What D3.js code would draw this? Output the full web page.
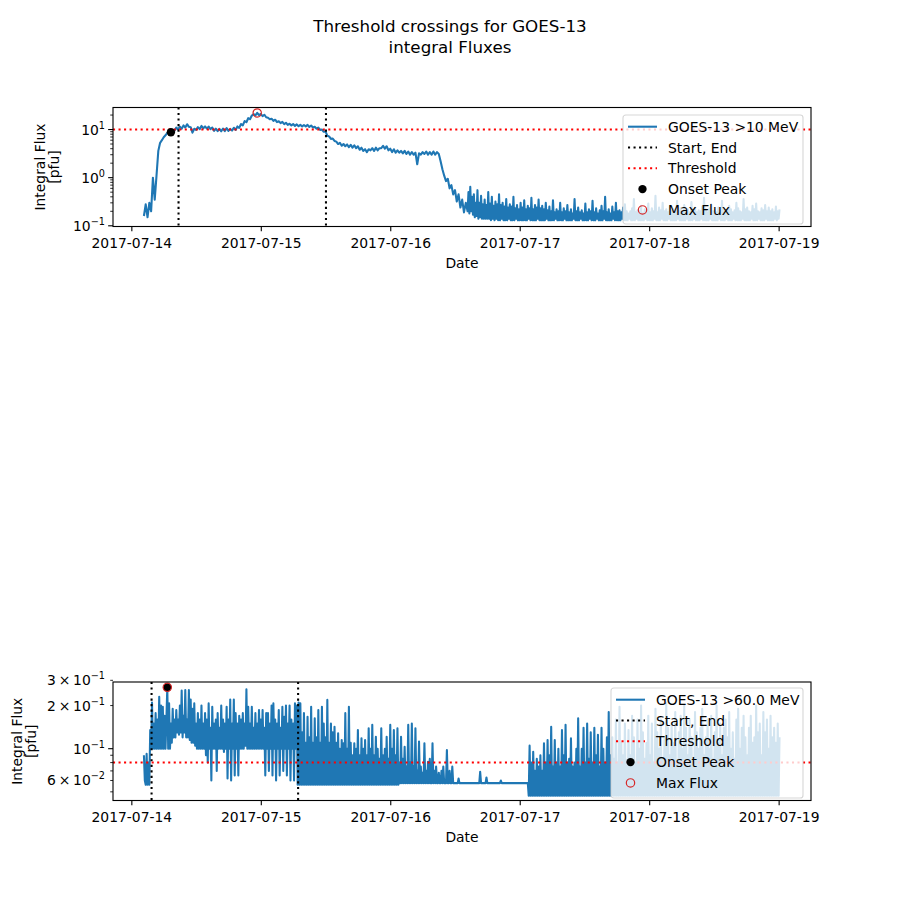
<!DOCTYPE html>
<html><head><meta charset="utf-8">
<script src="https://cdn.jsdelivr.net/npm/d3@7"></script>
<style>body{margin:0;background:#fff} svg{font-family:"DejaVu Sans",sans-serif}</style>
</head><body><svg id="c" width="900" height="900"></svg>
<script>
// ---- data ----
const xTickDates = ["2017-07-14","2017-07-15","2017-07-16","2017-07-17","2017-07-18","2017-07-19"];
// >10 MeV, event part: 20-minute samples from 2017-07-14 02:20 UTC
const flux10RiseStart = "2017-07-14T02:20:00Z", flux10RiseStepMin = 20;
const flux10Rise = [
0.16,0.28,0.15,0.3,0.2,1.0,  0.35,1.1,3.6,5.3,6.0,6.9,  7.6,8.5,8.2,8.8,9.9,9.4,
11.0,10.0,11.5,10.4,12.2,11.0,  12.9,11.4,11.2,8.6,10.4,9.8,  11.2,10.2,11.9,10.6,11.6,10.4,
11.5,10.2,11.0,9.4,10.4,9.3,  10.3,9.2,10.5,9.3,10.7,9.4,  10.3,9.5,10.9,9.8,11.6,10.8,
13.0,12.2,15.0,14.2,17.2,16.4,  19.5,20.8,19.6,22.1,20.0,21.0,  19.0,20.3,18.0,17.6,16.4,16.8,
15.1,16.0,14.3,14.9,13.6,14.4,  13.0,13.8,12.5,13.2,12.2,13.0,  11.9,12.8,11.7,12.5,11.6,12.4,
11.6,12.5,11.3,12.1,11.0,11.4,  10.4,11.0,9.8,10.0,9.0,9.2,  7.4,7.2,6.4,6.5,5.8,5.6,
5.0,5.3,4.6,5.0,4.5,4.9,  4.3,4.8,4.2,4.7,4.1,4.5,  3.8,4.2,3.6,3.9,3.4,3.9,
3.7,4.1,3.6,4.2,3.7,4.1,  4.1,4.6,4.0,4.5,3.7,4.0,  3.4,3.9,3.3,3.7,3.3,3.6,
3.2,3.6,3.1,3.5,3.0,3.4,  3.0,3.3,1.9,3.2,3.0,3.4,  3.1,3.5,3.0,3.4,3.0,3.5,
3.0,3.4,3.1,2.2,1.5,1.1,  0.85,0.95,0.6,0.7,0.45,0.55,  0.32,0.45,0.24,0.35,0.19,0.3
];
// >10 MeV, background part: 10-minute samples from 2017-07-16 14:20 UTC
const flux10TailStart = "2017-07-16T14:20:00Z", flux10TailStepMin = 10;
const flux10Tail = [
0.2,0.5,0.18,0.65,0.2,0.4, 0.17,0.45,0.15,0.3,0.16,0.55, 0.14,0.3,0.15,0.42,0.14,0.28, 0.14,0.35,0.14,0.27,0.14,0.5,
0.14,0.29,0.13,0.4,0.14,0.26, 0.13,0.32,0.14,0.28,0.13,0.45, 0.13,0.27,0.14,0.3,0.13,0.25, 0.13,0.36,0.13,0.24,0.14,0.28,
0.13,0.25,0.13,0.4,0.13,0.23, 0.14,0.27,0.13,0.22,0.13,0.3, 0.13,0.24,0.13,0.34,0.13,0.22, 0.13,0.26,0.14,0.23,0.13,0.38,
0.13,0.22,0.13,0.27,0.13,0.24, 0.14,0.35,0.13,0.23,0.13,0.26, 0.13,0.22,0.13,0.3,0.14,0.21, 0.13,0.25,0.13,0.2,0.13,0.34,
0.13,0.19,0.14,0.22,0.13,0.2, 0.13,0.3,0.13,0.19,0.13,0.23, 0.14,0.2,0.13,0.27,0.13,0.19, 0.13,0.22,0.13,0.18,0.14,0.36,
0.13,0.2,0.13,0.24,0.13,0.19, 0.14,0.21,0.13,0.18,0.13,0.29, 0.13,0.19,0.13,0.22,0.14,0.2, 0.13,0.33,0.13,0.19,0.13,0.23,
0.14,0.18,0.13,0.21,0.13,0.26, 0.13,0.2,0.14,0.4,0.13,0.19, 0.13,0.22,0.13,0.18,0.13,0.25, 0.14,0.19,0.13,0.3,0.13,0.2,
0.13,0.21,0.13,0.19,0.14,0.24, 0.13,0.28,0.13,0.2,0.13,0.18, 0.14,0.2,0.13,0.23,0.13,0.36, 0.13,0.19,0.14,0.21,0.13,0.2,
0.13,0.26,0.13,0.18,0.13,0.22, 0.14,0.2,0.13,0.29,0.13,0.19, 0.13,0.23,0.13,0.2,0.14,0.42, 0.13,0.19,0.13,0.24,0.13,0.21,
0.14,0.3,0.13,0.2,0.13,0.22, 0.13,0.19,0.14,0.26,0.13,0.2, 0.13,0.22,0.13,0.19,0.13,0.33, 0.14,0.2,0.13,0.23,0.13,0.19,
0.13,0.27,0.13,0.2,0.14,0.22, 0.13,0.19,0.13,0.31,0.13,0.2, 0.14,0.24,0.13,0.19,0.13,0.21, 0.13,0.2,0.14,0.25,0.13,0.38,
0.13,0.22,0.13,0.19,0.13,0.23, 0.14,0.28,0.13,0.2,0.13,0.21, 0.13,0.19,0.13,0.24,0.14,0.2, 0.13,0.33,0.13,0.21,0.13,0.19,
0.14,0.2,0.13,0.26,0.13,0.22, 0.13,0.19,0.14,0.21,0.13,0.3, 0.13,0.23,0.13,0.2,0.13,0.19, 0.14,0.36,0.13,0.22,0.13,0.24,
0.13,0.2,0.13,0.19,0.14,0.26, 0.13,0.22,0.13,0.29,0.13,0.2, 0.14,0.19,0.13,0.23,0.13,0.21, 0.13,0.27,0.14,0.2,0.13,0.24,
0.13,0.2,0.13,0.22,0.13,0.19, 0.14,0.25,0.13,0.2,0.14,0.22
];
// >60 MeV: 10-minute samples from 2017-07-14 02:20 UTC
const flux60Start = "2017-07-14T02:20:00Z", flux60StepMin = 10;
const flux60 = [
0.09,0.06,0.056,0.092,0.056,0.08, 0.056,0.135,0.1,0.21,0.1,0.15, 0.1,0.177,0.1,0.16,0.1,0.23, 0.1,0.2,0.1,0.196,0.1,0.17,
0.1,0.16,0.268,0.1,0.207,0.1, 0.15,0.11,0.19,0.12,0.16,0.12, 0.186,0.13,0.16,0.125,0.2,0.13, 0.255,0.12,0.17,0.13,0.257,0.12,
0.16,0.12,0.257,0.115,0.22,0.11, 0.19,0.11,0.207,0.105,0.15,0.1, 0.177,0.1,0.16,0.1,0.2,0.1, 0.15,0.1,0.177,0.09,0.16,0.08,
0.207,0.1,0.14,0.06,0.196,0.1, 0.15,0.1,0.16,0.07,0.177,0.1, 0.14,0.1,0.2,0.1,0.16,0.095, 0.15,0.1,0.196,0.062,0.16,0.1,
0.22,0.06,0.15,0.1,0.22,0.065, 0.177,0.1,0.15,0.065,0.17,0.1, 0.16,0.1,0.177,0.1,0.15,0.105, 0.26,0.1,0.196,0.1,0.15,0.1,
0.196,0.1,0.14,0.1,0.177,0.1, 0.15,0.1,0.186,0.1,0.16,0.1, 0.186,0.1,0.14,0.065,0.177,0.1, 0.177,0.07,0.15,0.1,0.2,0.065,
0.207,0.1,0.16,0.06,0.15,0.1, 0.186,0.065,0.14,0.1,0.196,0.07, 0.167,0.1,0.2,0.065,0.15,0.1, 0.2,0.06,0.16,0.1,0.15,0.06,
0.207,0.1,0.2,0.056,0.21,0.056, 0.207,0.056,0.13,0.056,0.177,0.056, 0.11,0.056,0.167,0.056,0.12,0.056, 0.196,0.056,0.11,0.056,0.163,0.056,
0.12,0.056,0.186,0.056,0.11,0.056, 0.196,0.056,0.15,0.056,0.12,0.056, 0.219,0.056,0.11,0.056,0.15,0.056, 0.13,0.056,0.142,0.056,0.11,0.056,
0.128,0.056,0.1,0.056,0.115,0.056, 0.109,0.056,0.177,0.056,0.1,0.056, 0.196,0.056,0.11,0.056,0.09,0.056, 0.109,0.056,0.1,0.056,0.135,0.056,
0.09,0.056,0.118,0.056,0.1,0.056, 0.115,0.056,0.09,0.056,0.139,0.056, 0.1,0.056,0.147,0.056,0.09,0.056, 0.121,0.056,0.1,0.056,0.085,0.056,
0.139,0.056,0.09,0.056,0.1,0.056, 0.121,0.056,0.085,0.056,0.147,0.056, 0.1,0.056,0.135,0.056,0.09,0.056, 0.139,0.056,0.08,0.0575,0.121,0.0575,
0.085,0.0575,0.103,0.0575,0.075,0.0575, 0.147,0.0575,0.08,0.0575,0.15,0.0575, 0.075,0.0575,0.139,0.0575,0.07,0.0575, 0.112,0.0575,0.075,0.0575,0.068,0.0575,
0.109,0.0575,0.07,0.0575,0.081,0.0575, 0.085,0.0575,0.0575,0.109,0.0575,0.07, 0.0575,0.075,0.0575,0.0575,0.068,0.0575, 0.0575,0.07,0.0575,0.075,0.0575,0.0575,
0.0575,0.098,0.0575,0.0575,0.07,0.0575, 0.0575,0.075,0.0575,0.0575,0.0575,0.0575, 0.0575,0.0575,0.062,0.0575,0.0575,0.0575, 0.0575,0.0575,0.0575,0.0575,0.0575,0.0575,
0.0575,0.0575,0.0575,0.0575,0.0575,0.0575, 0.0575,0.0575,0.0575,0.0575,0.0575,0.0575, 0.0575,0.0575,0.069,0.0575,0.0575,0.0575, 0.0575,0.0575,0.0575,0.063,0.0575,0.0575,
0.0575,0.0575,0.0575,0.0575,0.0575,0.0575, 0.0575,0.0575,0.0575,0.0575,0.0575,0.0575, 0.0575,0.06,0.0575,0.0575,0.0575,0.0575, 0.0575,0.0575,0.0575,0.0575,0.0575,0.0575,
0.0575,0.0575,0.0575,0.0575,0.0575,0.0575, 0.0575,0.0575,0.0575,0.0575,0.0575,0.0575, 0.0575,0.0575,0.0575,0.0575,0.0575,0.0575, 0.0575,0.0575,0.047,0.105,0.047,0.08,
0.047,0.095,0.047,0.07,0.047,0.085, 0.047,0.075,0.047,0.09,0.047,0.07, 0.047,0.109,0.047,0.08,0.047,0.115, 0.047,0.09,0.047,0.142,0.047,0.075,
0.047,0.115,0.047,0.08,0.047,0.1, 0.047,0.075,0.047,0.135,0.047,0.09, 0.047,0.147,0.047,0.08,0.047,0.085, 0.047,0.118,0.047,0.075,0.047,0.08,
0.047,0.1,0.047,0.163,0.047,0.075, 0.047,0.1,0.047,0.14,0.047,0.08, 0.047,0.15,0.047,0.085,0.047,0.13, 0.047,0.08,0.047,0.14,0.047,0.09,
0.047,0.125,0.047,0.075,0.047,0.14, 0.047,0.1,0.047,0.08,0.047,0.12, 0.047,0.18,0.047,0.09,0.047,0.12, 0.047,0.085,0.047,0.16,0.047,0.08,
0.047,0.196,0.047,0.11,0.047,0.09, 0.047,0.15,0.047,0.08,0.047,0.135, 0.047,0.09,0.047,0.17,0.047,0.12, 0.047,0.08,0.047,0.16,0.047,0.1,
0.047,0.2,0.047,0.13,0.047,0.085, 0.047,0.11,0.047,0.17,0.047,0.09, 0.047,0.15,0.047,0.08,0.047,0.19, 0.047,0.13,0.047,0.1,0.047,0.16,
0.047,0.085,0.047,0.12,0.047,0.21, 0.047,0.14,0.047,0.09,0.047,0.15, 0.047,0.11,0.047,0.18,0.047,0.08, 0.047,0.13,0.047,0.17,0.047,0.1,
0.047,0.2,0.047,0.14,0.047,0.09, 0.047,0.16,0.047,0.12,0.047,0.085, 0.047,0.18,0.047,0.13,0.047,0.1, 0.047,0.14,0.047,0.19,0.047,0.09,
0.047,0.12,0.047,0.16,0.047,0.1, 0.047,0.17,0.047,0.085,0.047,0.13, 0.047,0.2,0.047,0.11,0.047,0.15, 0.047,0.09,0.047,0.14,0.047,0.16,
0.047,0.12,0.047,0.18,0.047,0.1, 0.047,0.13,0.047,0.085,0.047,0.16, 0.047,0.19,0.047,0.1,0.047,0.14, 0.047,0.17,0.047,0.12,0.047,0.09,
0.047,0.14,0.047,0.17,0.047,0.11, 0.047,0.12,0.047,0.2,0.047,0.13, 0.047,0.15,0.047,0.09,0.047,0.18, 0.047,0.13,0.047,0.16,0.047,0.1,
0.047,0.17,0.047,0.12,0.047,0.14, 0.047,0.11,0.047,0.15,0.047,0.12
];
const seriesLabels = ["GOES-13 >10 MeV", "GOES-13 >60.0 MeV"];
const legendLabels = ["Start, End", "Threshold", "Onset Peak", "Max Flux"];
const thresholds = [10, 0.08];
const startEndTimes = [["2017-07-14T08:45:00Z","2017-07-15T12:05:00Z"], ["2017-07-14T03:45:00Z","2017-07-15T06:55:00Z"]];
const onsetPeaks = [["2017-07-14T07:20:00Z", 8.8], ["2017-07-14T06:40:00Z", 0.268]];
const maxFluxes = [["2017-07-14T23:20:00Z", 22.1], ["2017-07-14T06:40:00Z", 0.268]];
const yDomains = [[0.0967, 28.7], [0.0435, 0.292]];
const yMajorTicks = [[0.1, 1, 10], [0.1]];
const yMinorTicks = [[0.2,0.3,0.4,0.5,0.6,0.7,0.8,0.9,2,3,4,5,6,7,8,9,20], [0.05,0.06,0.07,0.08,0.09,0.2,0.3]];
const yTickLabels = [[[0.1,"","−1"],[1,"","0"],[10,"","1"]], [[0.3,"3","−1"],[0.2,"2","−1"],[0.1,"","−1"],[0.06,"6","−2"]]];
const titleLines = ["Threshold crossings for GOES-13", "integral Fluxes"];

// ---- build timed series ----
function timed(values, start, stepMin) {
  const s = new Date(start).getTime();
  return values.map((v,i)=>({t:new Date(s + i*stepMin*60000), v}));
}
const seriesData = [
  timed(flux10Rise, flux10RiseStart, flux10RiseStepMin).concat(timed(flux10Tail, flux10TailStart, flux10TailStepMin)),
  timed(flux60, flux60Start, flux60StepMin)
];

// ---- layout ----
const svg = d3.select("#c");
const BLUE = "#1f77b4";
const FS = 13.9;
const panelBoxes = [{top:107.5,bottom:226.5,ylab:[40,54],leg:{x:623,y:115,w:180,h:109}}, {top:682,bottom:800.5,ylab:[17,31],leg:{x:611,y:688,w:192,h:110}}];
const L = 113, R = 811;
const x = d3.scaleUtc().domain([new Date("2017-07-13T20:36:00Z"), new Date("2017-07-19T06:00:00Z")]).range([L, R]);

svg.selectAll("text.title").data(titleLines).join("text")
  .attr("x", 450).attr("y", (d,i)=>32+i*21).attr("text-anchor","middle")
  .attr("font-size", 16.7).text(d=>d);

seriesData.forEach((data, p) => {
  const B = panelBoxes[p];
  const y = d3.scaleLog().domain(yDomains[p]).range([B.bottom, B.top]);
  const g = svg.append("g");
  const clipId = "clip"+p;
  g.append("clipPath").attr("id", clipId).append("rect")
    .attr("x", L).attr("y", B.top).attr("width", R-L).attr("height", B.bottom-B.top);
  const pl = g.append("g").attr("clip-path", `url(#${clipId})`);
  pl.append("path").datum(data).attr("fill","none").attr("stroke",BLUE).attr("stroke-width",2.08)
    .attr("stroke-linejoin","round")
    .attr("d", d3.line().x(d=>x(d.t)).y(d=>y(d.v)));
  pl.selectAll("line.se").data(startEndTimes[p]).join("line")
    .attr("x1", d=>x(new Date(d))).attr("x2", d=>x(new Date(d)))
    .attr("y1", B.top).attr("y2", B.bottom)
    .attr("stroke","#000").attr("stroke-width",2.08).attr("stroke-dasharray","2.08 3.44");
  pl.append("line").attr("x1",L).attr("x2",R).attr("y1",y(thresholds[p])).attr("y2",y(thresholds[p]))
    .attr("stroke","red").attr("stroke-width",2.08).attr("stroke-dasharray","2.08 3.44");
  pl.append("circle").attr("cx", x(new Date(onsetPeaks[p][0]))).attr("cy", y(onsetPeaks[p][1]))
    .attr("r", 4.17).attr("fill","#000");
  pl.append("circle").attr("cx", x(new Date(maxFluxes[p][0]))).attr("cy", y(maxFluxes[p][1]))
    .attr("r", 4.17).attr("fill","none").attr("stroke","#d62728").attr("stroke-width",1.2);

  const xa = g.append("g").attr("transform",`translate(0,${B.bottom})`)
    .call(d3.axisBottom(x).tickValues(xTickDates.map(s=>new Date(s+"T00:00:00Z")))
      .tickFormat(d3.utcFormat("%Y-%m-%d")).tickSizeInner(4.86).tickSizeOuter(0).tickPadding(6.7));
  xa.select(".domain").remove();
  xa.selectAll("line").attr("stroke-width",1.11);
  xa.selectAll("text").attr("font-size",FS).attr("font-family","DejaVu Sans").attr("fill","#000");
  const ya = g.append("g");
  ya.selectAll("line.maj").data(yMajorTicks[p]).join("line")
    .attr("x1",L-4.86).attr("x2",L).attr("y1",d=>y(d)).attr("y2",d=>y(d)).attr("stroke","#000").attr("stroke-width",1.11);
  ya.selectAll("line.min").data(yMinorTicks[p]).join("line")
    .attr("x1",L-2.78).attr("x2",L).attr("y1",d=>y(d)).attr("y2",d=>y(d)).attr("stroke","#000").attr("stroke-width",0.83);
  const yt = ya.selectAll("text").data(yTickLabels[p]).join("text")
    .attr("x", 105).attr("y", d=>y(d[0])+5).attr("text-anchor","end").attr("font-size",FS);
  yt.append("tspan").text(d=> d[1] ? d[1]+"\u2009×\u200910" : "10");
  yt.append("tspan").attr("dy",-6).attr("font-size",9.7).text(d=>d[2]);
  g.append("rect").attr("x",L).attr("y",B.top).attr("width",R-L).attr("height",B.bottom-B.top)
    .attr("fill","none").attr("stroke","#000").attr("stroke-width",1.11);
  g.selectAll("text.yl").data(["Integral Flux","[pfu]"]).join("text")
    .attr("transform",(d,i)=>`translate(${B.ylab[i]},${(B.top+B.bottom)/2}) rotate(-90)`)
    .attr("text-anchor","middle").attr("dominant-baseline","central").attr("font-size",FS).text(d=>d);
  g.append("text").attr("x",(L+R)/2).attr("y",B.bottom+41.5).attr("text-anchor","middle")
    .attr("font-size",FS).text("Date");

  const lg = g.append("g").attr("transform",`translate(${B.leg.x},${B.leg.y})`);
  lg.append("rect").attr("width",B.leg.w).attr("height",B.leg.h).attr("rx",2.8)
    .attr("fill","#fff").attr("fill-opacity",0.8).attr("stroke","#cccccc").attr("stroke-opacity",0.8).attr("stroke-width",1.11);
  const labels = [seriesLabels[p]].concat(legendLabels);
  labels.forEach((lab,i)=>{
    const cy = 11.7 + i*20.8;
    const hx0 = 5, hx1 = 34, hc = 19.5;
    if (i===0) lg.append("line").attr("x1",hx0).attr("x2",hx1).attr("y1",cy).attr("y2",cy).attr("stroke",BLUE).attr("stroke-width",2.08);
    if (i===1||i===2) lg.append("line").attr("x1",hx0).attr("x2",hx1).attr("y1",cy).attr("y2",cy)
      .attr("stroke", i===1?"#000":"red").attr("stroke-width",2.08).attr("stroke-dasharray","2.08 3.44");
    if (i===3) lg.append("circle").attr("cx",hc).attr("cy",cy).attr("r",4.17).attr("fill","#000");
    if (i===4) lg.append("circle").attr("cx",hc).attr("cy",cy).attr("r",4.17).attr("fill","none").attr("stroke","#d62728").attr("stroke-width",1.2);
    lg.append("text").attr("x",45).attr("y",cy+5).attr("font-size",FS).text(lab);
  });
});
</script></body></html>
